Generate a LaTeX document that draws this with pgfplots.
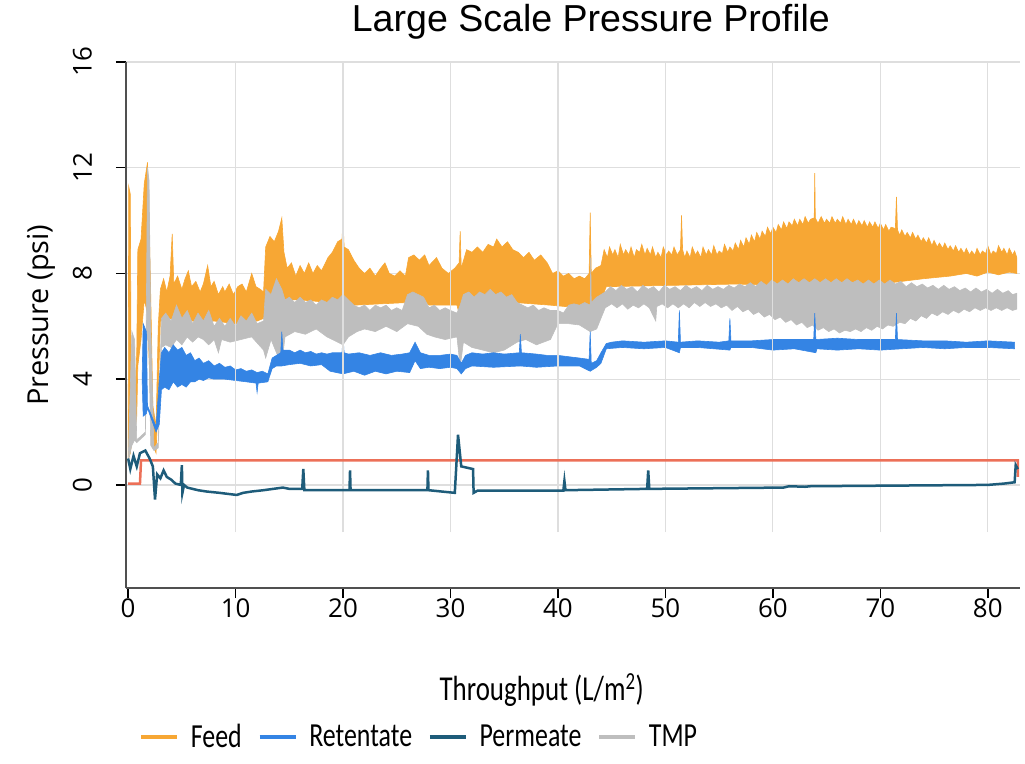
\documentclass[border=0pt]{standalone}
\usepackage{graphicx}
\usepackage{pgfplots}
\pgfplotsset{compat=1.18}
\usepackage{pgfplotstable}
\usepgfplotslibrary{fillbetween}
\usetikzlibrary{calc}
\usepackage{fontspec}
\setmainfont{Open Sans}
\newfontfamily\titlefont{Liberation Sans}
\newfontfamily\carlito{Carlito}

\definecolor{feedc}{RGB}{247,167,52}
\definecolor{retc}{RGB}{52,132,228}
\definecolor{permc}{RGB}{30,92,122}
\definecolor{tmpc}{RGB}{190,190,190}
\definecolor{redc}{RGB}{236,112,88}
\definecolor{gridc}{RGB}{222,222,222}
\definecolor{axc}{RGB}{80,80,80}

\pgfplotstableread{
x y
0.0 0.9
0.05 11.3
0.2 11.0
0.3 2.2
0.6 3.0
0.8 5.0
0.9 8.9
1.2 9.3
1.5 11.4
1.8 12.2
1.9 11.0
2.1 7.2
2.3 3.0
2.6 2.2
2.8 6.0
3.0 7.4
3.3 7.8
3.6 7.3
3.9 7.9
4.1 9.5
4.25 7.6
4.6 7.9
5.0 7.4
5.3 7.8
5.6 8.1
5.9 7.5
6.3 7.7
6.7 7.3
7.0 7.6
7.4 8.3
7.7 7.5
8.0 7.7
8.4 7.2
8.8 7.5
9.0 7.3
9.4 7.6
9.8 7.2
10.2 7.5
10.6 7.6
11.0 7.3
11.5 8.0
11.9 7.5
12.3 7.4
12.6 7.3
12.8 9.0
13.2 9.4
13.6 9.2
14.0 9.6
14.3 10.1
14.5 8.8
14.8 8.2
15.2 8.4
15.6 7.9
16.0 8.3
16.4 8.0
16.8 8.4
17.2 8.0
17.6 8.3
18.0 8.1
18.6 8.6
19.0 8.8
19.5 9.2
19.9 9.3
20.0 10.0
20.1 9.0
20.5 8.9
21.0 8.5
21.5 8.2
22.0 8.0
22.5 8.2
23.0 7.9
23.5 8.2
23.9 8.4
24.3 8.0
24.8 7.9
25.3 8.1
25.8 7.9
26.1 8.6
26.6 8.7
27.1 8.5
27.6 8.7
28.0 8.3
28.7 8.6
29.2 8.2
29.8 8.0
30.4 8.2
30.8 8.4
30.9 9.6
31.0 8.2
31.5 8.9
32.0 8.8
32.5 9.0
33.0 8.8
33.5 9.1
34.0 9.0
34.3 9.3
34.8 9.0
35.3 9.2
35.8 8.9
36.3 8.8
36.8 8.6
37.3 8.8
37.8 8.5
38.4 8.7
39.0 8.4
39.5 8.0
40.0 8.1
40.5 7.9
41.0 8.0
41.5 7.8
42.0 7.9
42.5 7.8
42.9 8.0
43.0 10.3
43.1 8.0
43.5 8.2
44.0 8.3
44.3 8.9
44.6 8.6
44.8 9.0
45.1 8.7
45.3 8.9
45.6 8.6
45.8 9.1
46.1 8.7
46.3 8.9
46.6 8.7
46.8 9.0
47.1 8.6
47.3 8.9
47.6 8.8
47.8 9.1
48.1 8.7
48.3 8.95
48.6 8.7
48.8 9.0
49.1 8.6
49.3 8.8
49.6 8.6
49.8 9.0
50.1 8.7
50.3 8.85
50.6 8.7
50.8 9.0
51.1 8.7
51.4 8.9
51.5 10.2
51.6 8.9
51.8 8.6
52.0 8.85
52.3 8.6
52.5 9.0
52.8 8.7
53.0 8.85
53.3 8.6
53.5 9.0
53.8 8.7
54.0 8.9
54.3 8.7
54.5 9.05
54.8 8.7
55.0 8.85
55.3 8.75
55.5 9.1
55.8 8.8
56.0 9.0
56.3 8.85
56.5 9.15
56.8 8.9
57.0 9.25
57.3 9.0
57.5 9.35
57.8 9.1
58.0 9.45
58.3 9.2
58.5 9.55
58.8 9.3
59.0 9.6
59.3 9.4
59.5 9.75
59.8 9.5
60.0 9.75
60.3 9.55
60.5 9.85
60.8 9.65
61.0 9.95
61.3 9.7
61.5 9.95
61.8 9.8
62.0 10.05
62.3 9.8
62.5 10.05
62.8 9.85
63.0 10.15
63.3 9.9
63.5 10.05
63.85 10.1
63.9 11.8
63.95 10.1
64.2 9.9
64.5 10.15
64.8 9.9
65.0 10.05
65.3 9.9
65.5 10.15
65.8 9.9
66.0 10.05
66.3 9.9
66.5 10.15
66.8 9.85
67.0 10.05
67.3 9.85
67.5 10.05
67.8 9.8
68.0 10.0
68.3 9.8
68.5 10.0
68.8 9.75
69.0 9.95
69.3 9.75
69.5 9.95
69.8 9.7
70.0 9.9
70.3 9.65
70.5 9.85
70.8 9.6
71.0 9.75
71.4 9.7
71.5 10.9
71.6 9.65
71.8 9.45
72.0 9.65
72.3 9.4
72.5 9.55
72.8 9.35
73.0 9.55
73.3 9.3
73.5 9.45
73.8 9.2
74.0 9.35
74.3 9.15
74.5 9.35
74.8 9.05
75.0 9.25
75.3 9.0
75.5 9.15
75.8 8.95
76.0 9.15
76.3 8.9
76.5 9.05
76.8 8.85
77.0 9.05
77.3 8.8
77.5 8.95
77.8 8.75
78.0 8.95
78.3 8.7
78.5 8.85
78.8 8.7
79.0 8.95
79.3 8.7
79.5 8.85
79.8 8.75
80.0 9.05
80.3 8.7
80.5 8.85
80.8 8.75
81.0 9.05
81.3 8.8
81.5 8.95
81.8 8.7
82.0 8.95
82.3 8.7
82.5 8.85
82.7 8.6
}\feedU
\pgfplotstableread{
x y
0.0 0.9
0.05 1.0
0.2 1.2
0.3 1.5
0.6 2.0
0.8 2.6
0.9 4.5
1.2 5.5
1.5 7.0
1.8 6.5
2.1 3.0
2.3 1.5
2.6 1.2
2.8 3.5
3.0 6.2
4 6.3
6 6.2
8 6.2
10 6.1
12 6.2
12.6 6.3
12.8 6.8
14.5 7.0
16 7.0
18.8 6.9
21 6.8
26 6.9
27 7.2
28 6.8
30.6 6.8
30.9 6.3
31.2 6.9
36 6.9
39.3 6.8
42 6.7
43 6.6
44 7.0
44.5 7.5
56.7 7.6
60 7.55
64 7.5
68 7.5
72 7.7
74 7.8
76.5 7.9
78 8.0
79 7.9
80 8.05
81 7.95
82 8.05
82.7 8.0
}\feedL
\pgfplotstableread{
x y
0.0 0.9
0.35 5.8
0.6 5.5
0.8 1.7
1.6 2.0
1.8 12.0
1.95 11.5
2.1 6.0
2.4 1.4
2.8 1.6
3.1 6.3
3.5 6.5
4.0 6.2
4.5 6.8
5.0 6.3
5.5 6.6
6.0 6.1
6.5 6.5
7.0 6.2
7.5 6.6
8.0 6.0
8.5 6.3
9.0 6.0
9.5 6.3
10.0 6.0
10.5 6.4
11.0 6.2
11.5 6.5
12.0 6.1
12.6 6.2
12.8 7.4
13.3 7.2
13.8 7.8
14.3 7.4
14.6 7.0
15.0 7.1
15.5 6.9
16.0 7.1
16.5 6.9
17.0 7.0
17.5 6.8
18.0 7.0
18.5 6.9
19.0 7.1
19.5 7.0
20.0 7.2
20.5 7.0
21.0 6.8
21.5 6.7
22.0 6.8
22.5 6.6
23.0 6.8
23.5 6.7
24.0 6.8
24.5 6.6
25.0 6.7
25.5 6.6
26.0 7.2
26.5 7.3
27.0 7.2
27.5 7.1
28.0 6.7
28.5 6.8
29.0 6.6
29.5 6.7
30.0 6.6
30.6 6.5
30.9 6.8
31.2 7.2
31.7 7.3
32.2 7.1
32.7 7.3
33.2 7.2
33.7 7.4
34.2 7.2
34.7 7.3
35.2 7.1
35.7 7.2
36.2 6.9
36.7 6.8
37.2 6.7
37.7 6.8
38.2 6.6
38.7 6.7
39.3 6.6
40.0 6.6
40.5 6.5
41.0 6.8
41.5 6.85
42.0 6.8
42.5 6.9
43.0 6.8
43.05 8.6
43.1 6.9
43.6 7.1
44.4 7.3
44.9 7.5
45.4 7.35
45.9 7.55
46.4 7.4
46.9 7.5
47.4 7.3
47.9 7.55
48.4 7.4
48.9 7.5
49.4 7.3
49.9 7.55
50.4 7.4
50.9 7.5
51.4 7.35
51.9 7.55
52.4 7.4
52.9 7.5
53.4 7.35
53.9 7.55
54.4 7.4
54.9 7.5
55.4 7.4
55.9 7.55
56.4 7.45
56.9 7.6
57.4 7.5
57.9 7.65
58.4 7.5
58.9 7.7
59.4 7.55
59.9 7.75
60.4 7.6
60.9 7.75
61.4 7.6
61.9 7.8
62.4 7.65
62.9 7.8
63.4 7.65
63.9 7.8
64.4 7.65
64.9 7.8
65.4 7.65
65.9 7.8
66.4 7.65
66.9 7.8
67.4 7.65
67.9 7.75
68.4 7.6
68.9 7.75
69.4 7.6
69.9 7.75
70.4 7.6
70.9 7.75
71.4 7.6
71.9 7.7
72.4 7.5
72.9 7.65
73.4 7.5
73.9 7.6
74.4 7.45
74.9 7.55
75.4 7.4
75.9 7.55
76.4 7.4
76.9 7.5
77.4 7.35
77.9 7.45
78.4 7.3
78.9 7.45
79.4 7.3
79.9 7.4
80.4 7.25
80.9 7.4
81.4 7.25
81.9 7.35
82.3 7.2
82.7 7.25
}\tmpU
\pgfplotstableread{
x y
0.0 0.9
0.35 1.5
0.6 1.7
0.8 1.6
1.6 1.9
1.8 6.0
1.95 5.0
2.1 1.5
2.4 1.3
2.8 1.4
3.1 5.2
3.5 5.3
4.0 5.2
4.5 5.5
5.0 5.3
5.5 5.6
6.0 5.4
6.5 5.6
7.0 5.5
7.5 5.3
8.0 5.5
8.4 5.0
8.7 5.5
9.5 5.4
10.5 5.5
11.5 5.6
12.6 5.1
12.8 4.8
13.3 5.5
13.8 5.0
14.3 4.6
14.6 5.6
15.5 5.8
16.5 5.7
17.5 5.9
18.5 5.6
19.5 5.4
20.0 5.3
20.5 5.6
21.3 5.8
22 5.9
23 5.8
24 6.0
25 5.8
26 6.1
27 6.0
27.8 5.7
28.5 5.6
29.5 5.5
30.6 5.6
30.9 4.45
31.2 5.4
32.0 5.2
33.0 5.1
34.0 5.0
35.0 5.1
36.2 5.4
37.0 5.5
38.0 5.3
39.3 5.5
40.0 6.1
41.0 6.1
42.0 6.05
43.0 5.8
43.6 5.9
44.4 6.7
45 6.85
45.5 6.7
46 6.85
46.5 6.65
47 6.8
47.5 6.7
48 6.85
48.5 6.7
49.1 6.2
49.2 6.75
49.7 6.85
50.2 6.7
50.7 6.85
51.2 6.7
51.7 6.85
52.2 6.7
52.7 6.9
53.2 6.75
53.7 6.9
54.2 6.75
54.7 6.85
55.2 6.7
55.7 6.8
56.2 6.6
56.7 6.75
57.2 6.55
57.7 6.65
58.2 6.45
58.7 6.55
59.2 6.35
59.7 6.45
60.2 6.25
60.7 6.35
61.2 6.15
61.7 6.25
62.2 6.05
62.7 6.15
63.2 5.95
63.7 6.05
64.2 5.85
64.7 5.95
65.2 5.8
65.7 5.9
66.2 5.75
66.7 5.85
67.2 5.8
67.7 5.9
68.2 5.8
68.7 5.95
69.2 5.85
69.7 6.0
70.2 5.9
70.7 6.05
71.2 6.0
71.8 6.15
72.3 6.1
72.8 6.3
73.3 6.2
73.8 6.4
74.3 6.3
74.8 6.5
75.3 6.4
75.8 6.55
76.3 6.45
76.8 6.6
77.3 6.5
77.8 6.65
78.3 6.55
78.8 6.7
79.3 6.6
79.8 6.7
80.3 6.6
80.8 6.7
81.3 6.6
81.8 6.7
82.3 6.6
82.7 6.65
}\tmpL
\pgfplotstableread{
x y
1.3 4.0
1.4 6.1
1.7 5.8
1.8 3.0
2.6 2.2
2.9 4.0
3.1 5.0
3.4 5.2
3.8 5.0
4.2 5.3
4.6 5.1
5.0 5.2
5.4 4.9
5.8 5.0
6.2 4.7
6.6 4.8
7.0 4.6
7.5 4.7
8.0 4.5
8.5 4.6
9.0 4.45
9.5 4.5
10.0 4.35
10.5 4.4
11.0 4.3
11.5 4.35
12.0 4.25
12.5 4.3
13.0 4.2
13.4 4.8
13.8 4.9
14.2 5.0
14.3 5.8
14.4 5.1
15.0 5.1
15.5 5.0
16.0 5.1
16.5 5.0
17.0 5.05
17.5 4.95
18.0 5.0
18.5 4.95
19.0 5.0
19.5 5.0
19.9 5.0
20.0 5.6
20.1 5.0
20.5 4.95
21.5 5.0
22.5 4.9
23.5 5.0
24.5 4.9
25.5 4.95
26.2 5.0
26.7 5.4
27.2 5.0
28.0 4.9
29.0 4.9
30.0 4.95
30.6 4.9
31.0 4.6
31.4 4.9
32 5.0
33 4.95
34 5.0
35 4.95
36.4 5.0
36.5 5.7
36.6 5.0
38 4.95
39 4.9
40 4.9
41 4.85
42 4.8
42.9 4.75
43.0 5.8
43.1 4.6
43.6 4.7
44.0 5.0
44.5 5.35
45 5.4
46 5.45
48 5.4
50 5.45
51.2 5.4
51.3 6.6
51.4 5.4
53 5.45
55 5.4
55.9 5.45
56.0 6.3
56.1 5.45
58 5.45
60 5.5
62 5.5
63.8 5.5
63.9 6.5
64.0 5.5
66 5.55
68 5.5
70 5.5
71.4 5.5
71.5 6.5
71.6 5.5
74 5.45
76 5.45
78 5.4
80 5.45
82.5 5.4
}\retU
\pgfplotstableread{
x y
1.3 4.0
1.4 2.6
1.7 2.7
1.8 2.9
2.6 2.0
2.9 2.3
3.1 3.6
3.4 3.7
3.8 3.6
4.2 3.9
4.6 3.7
5.0 3.8
5.4 3.7
5.8 3.9
6.2 3.9
6.6 4.0
7.0 3.95
7.5 4.05
8.0 4.0
9.0 4.0
10.0 3.95
11.0 3.9
11.9 3.85
12.0 3.5
12.1 3.85
13.0 3.9
13.4 4.4
13.8 4.5
14.3 4.5
15 4.55
16 4.6
17 4.5
18 4.55
18.8 4.3
20 4.2
21 4.3
22 4.15
23 4.3
24 4.2
25 4.3
26.2 4.25
26.7 4.7
27.2 4.4
28 4.45
29 4.4
30 4.45
30.6 4.4
31.0 4.2
31.4 4.4
32 4.5
34 4.45
36.5 4.5
38 4.45
40 4.5
42 4.5
43.0 4.3
43.6 4.45
44.0 4.6
44.5 5.15
46 5.2
48 5.15
50 5.2
51.3 5.0
51.4 5.2
53 5.2
56.0 5.1
56.1 5.2
58 5.2
60 5.1
62 5.15
64 5.0
64.1 5.15
66 5.1
68 5.15
70 5.1
72 5.15
74 5.2
76 5.15
78 5.2
80 5.2
82.5 5.15
}\retL
\pgfplotstableread{
x y
0 1.0
0.2 0.6
0.5 1.1
0.8 0.7
1.1 1.2
1.6 1.3
2.0 1.0
2.3 0.7
2.5 -0.55
2.7 0.4
3.0 0.25
3.3 0.55
3.6 0.3
4.0 0.2
4.4 0.05
4.9 0.0
5.0 0.75
5.05 -0.3
5.2 0.0
5.5 -0.1
6.5 -0.2
7.3 -0.25
8.5 -0.3
10.1 -0.38
10.7 -0.3
11.5 -0.25
12.6 -0.2
13.5 -0.15
14.4 -0.1
15.0 -0.15
16.2 -0.15
16.3 0.6
16.4 -0.2
20.6 -0.2
20.65 0.55
20.7 -0.2
27.85 -0.2
27.9 0.55
27.95 -0.2
30.4 -0.3
30.7 1.9
31.0 0.7
32.1 0.6
32.15 -0.3
32.5 -0.22
40.5 -0.22
40.6 0.15
40.7 -0.2
48.3 -0.15
48.4 0.55
48.5 -0.15
61 -0.1
61.5 -0.05
63 -0.07
63.5 -0.05
80 0.0
81.5 0.05
82.5 0.1
82.6 0.75
82.8 0.6
}\perm
\pgfplotstableread{
x y
0 0.05
1.1 0.05
1.2 0.93
82.8 0.93
82.8 0.3
}\redline

\begin{document}
\begin{tikzpicture}
\begin{axis}[
  name=ax, at={(0,0)}, anchor=south west,
  scale only axis, width=894bp, height=526bp,
  xmin=-0.2, xmax=83, ymin=-3.9, ymax=16,
  axis x line*=bottom, axis y line*=left,
  axis line style={axc, line width=1.8bp},
  xtick={0,10,...,80}, ytick={0,4,...,16},
  tick align=outside, major tick length=10bp,
  tick style={black, line width=1.5bp},
  ymajorgrids, grid style={gridc, line width=1.2bp},
  /pgf/number format/assume math mode=true,
  ticklabel style={font=\fontsize{26}{30}\selectfont},
  xticklabel style={inner sep=0pt, anchor=north, yshift=-1bp},
  yticklabel style={rotate=90, anchor=south, inner sep=0pt},
  yticklabel shift=24bp,
  title={Large Scale Pressure Profile},
  title style={at={(axis description cs:0.520,1.0475)}, anchor=base, inner sep=0pt,
    font=\titlefont\fontsize{37.7}{40}\selectfont},
  xlabel={\scalebox{1}[1.3]{Throughput (L/m\textsuperscript{2})}},
  xlabel style={at={(axis description cs:0.465,-0.194)}, anchor=center,
    font=\carlito\fontsize{27}{30}\selectfont},
  ylabel={Pressure (psi)},
  ylabel style={at={(axis description cs:-0.095,0.519)}, anchor=center,
    font=\fontsize{29}{32}\selectfont},
  legend columns=4,
  legend style={draw=none, fill=none, at={(0.328,-0.283)}, anchor=center,
    font=\carlito\fontsize{26}{30}\selectfont,
    /tikz/every odd column/.append style={column sep=10bp},
    /tikz/every even column/.append style={column sep=14bp}},
  legend image code/.code={\draw[#1] (0bp,0bp) -- (36bp,0bp);},
]
\pgfplotsinvokeforeach{10,20,30,40,50,60,70,80}{
  \draw[gridc, line width=1.2bp] (axis cs:#1,-1.8) -- (axis cs:#1,16);
}
% Feed
\addplot[name path=fu, draw=none, forget plot] table {\feedU};
\addplot[name path=fl, draw=none, forget plot] table {\feedL};
\addplot[fill=feedc, draw=feedc, line width=0.6bp, forget plot] fill between[of=fu and fl];
% TMP
\addplot[name path=tu, draw=none, forget plot] table {\tmpU};
\addplot[name path=tl, draw=none, forget plot] table {\tmpL};
\addplot[fill=tmpc, draw=tmpc, line width=0.6bp, forget plot] fill between[of=tu and tl];
% Retentate
\addplot[name path=ru, draw=none, forget plot] table {\retU};
\addplot[name path=rl, draw=none, forget plot] table {\retL};
\addplot[fill=retc, draw=retc, line width=0.6bp, forget plot] fill between[of=ru and rl];
% red reference line
\addplot[redc, line width=2.5bp, forget plot] table {\redline};
% Permeate
\addplot[permc, line width=2.5bp, forget plot] table {\perm};

\addlegendimage{feedc, line width=3.5bp}
\addlegendentry{\scalebox{1}[1.3]{Feed}}
\addlegendimage{retc, line width=3.5bp}
\addlegendentry{\scalebox{1}[1.3]{Retentate}}
\addlegendimage{permc, line width=3.5bp}
\addlegendentry{\scalebox{1}[1.3]{Permeate}}
\addlegendimage{tmpc, line width=3.5bp}
\addlegendentry{\scalebox{1}[1.3]{TMP}}
\end{axis}
\pgfresetboundingbox
\useasboundingbox ($(ax.south west)+(-126bp,-176bp)$) rectangle ($(ax.north east)+(5bp,62bp)$);
\end{tikzpicture}
\end{document}
